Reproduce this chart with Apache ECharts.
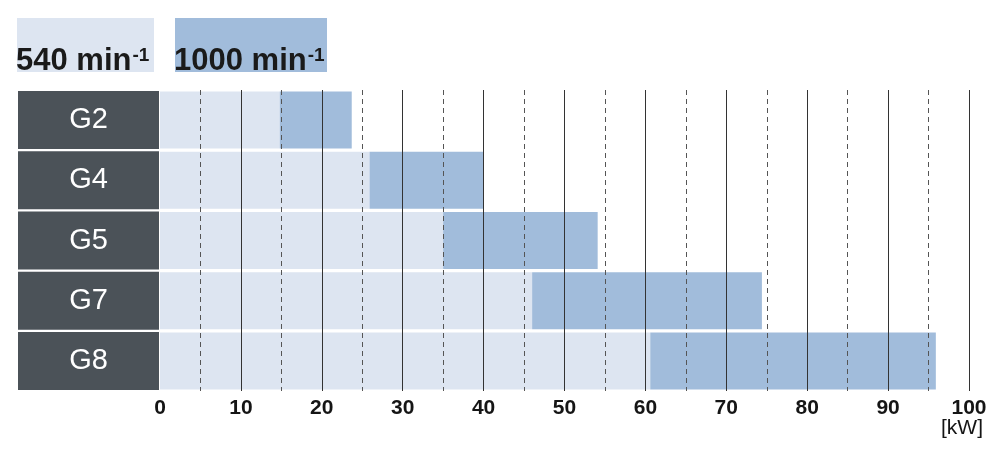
<!DOCTYPE html>
<html>
<head>
<meta charset="utf-8">
<script src="https://cdn.jsdelivr.net/npm/echarts@6/dist/echarts.min.js"></script>
<style>
html,body{margin:0;padding:0;background:#fff;}
#chart{width:1000px;height:454px;}
</style>
</head>
<body>
<div id="chart"></div>
<script>
const categories = ['G2', 'G4', 'G5', 'G7', 'G8'];
// power range start (540 min-1) and end (1000 min-1), kW
const start540 = [14.8, 25.9, 35.0, 46.0, 60.6];
const end1000 = [23.7, 40.0, 54.1, 74.4, 95.9];
const xTicks = [0, 10, 20, 30, 40, 50, 60, 70, 80, 90, 100];
const legendLabels = ['540 min', '1000 min'];
const legendSup = '-1';
const unitLabel = '[kW]';

const LIGHT = '#dde5f1';
const DARK = '#a1bcdb';
const FONT = '"Liberation Sans", Arial, Helvetica, sans-serif';

const chart = echarts.init(document.getElementById('chart'), null, {renderer: 'canvas'});

const span = start540.map((s, i) => +(end1000[i] - s).toFixed(2));
// no grid line at 0 (the label boxes sit there)
const splitColors = xTicks.map(v => v === 0 ? 'rgba(0,0,0,0)' : '#333333');

const legendRich = {
  a: {fontFamily: FONT, fontSize: 31, fontWeight: 'bold', fill: '#1a1a1a', lineHeight: 31},
  s: {fontFamily: FONT, fontSize: 19, fontWeight: 'bold', fill: '#1a1a1a', lineHeight: 19, verticalAlign: 'top', padding: [0, 0, 0, 1]}
};

const option = {
  animation: false,
  grid: {left: 160, right: 30, top: 90, bottom: 63, containLabel: false},
  xAxis: {
    type: 'value',
    min: xTicks[0],
    max: xTicks[xTicks.length - 1],
    interval: 10,
    z: 5,
    axisLine: {show: false},
    axisTick: {show: false},
    minorTick: {show: false, splitNumber: 2},
    splitLine: {show: true, lineStyle: {color: splitColors, width: 1, type: 'solid'}},
    minorSplitLine: {show: true, lineStyle: {color: '#555', width: 1, type: [5, 4]}},
    axisLabel: {
      margin: 6,
      formatter: function (v) {
        if (v === 100) return '{n|' + v + '}\n{u|' + unitLabel + '}';
        return '{n|' + v + '}';
      },
      rich: {
        n: {fontFamily: FONT, fontSize: 21, fontWeight: 'bold', color: '#151515', lineHeight: 22},
        u: {fontFamily: FONT, fontSize: 21, color: '#151515', lineHeight: 18, padding: [0, 14, 0, 0]}
      }
    }
  },
  yAxis: {
    type: 'category',
    data: categories,
    inverse: true,
    axisLine: {show: false},
    axisTick: {show: false},
    splitLine: {show: false},
    axisLabel: {
      margin: 1,
      formatter: function (v) { return '{b|' + v + '}'; },
      rich: {
        b: {
          backgroundColor: '#4b5258',
          width: 141,
          height: 58,
          lineHeight: 58,
          align: 'center',
          color: '#ffffff',
          fontFamily: FONT,
          fontSize: 29
        }
      }
    }
  },
  series: [
    {
      name: '540 min-1',
      type: 'bar',
      stack: 'p',
      data: start540,
      barWidth: 57,
      itemStyle: {color: LIGHT},
      z: 2
    },
    {
      name: '1000 min-1',
      type: 'bar',
      stack: 'p',
      data: span,
      barWidth: 57,
      itemStyle: {color: DARK},
      z: 2
    }
  ],
  graphic: [
    {type: 'rect', left: 17, top: 18, shape: {width: 137, height: 54}, style: {fill: LIGHT}},
    {type: 'rect', left: 175, top: 18, shape: {width: 152, height: 54}, style: {fill: DARK}},
    {
      type: 'text', left: 16, top: 46,
      style: {text: '{a|' + legendLabels[0] + '}{s|' + legendSup + '}', rich: legendRich}
    },
    {
      type: 'text', left: 174, top: 46,
      style: {text: '{a|' + legendLabels[1] + '}{s|' + legendSup + '}', rich: legendRich}
    }
  ]
};

chart.setOption(option);
</script>
</body>
</html>
